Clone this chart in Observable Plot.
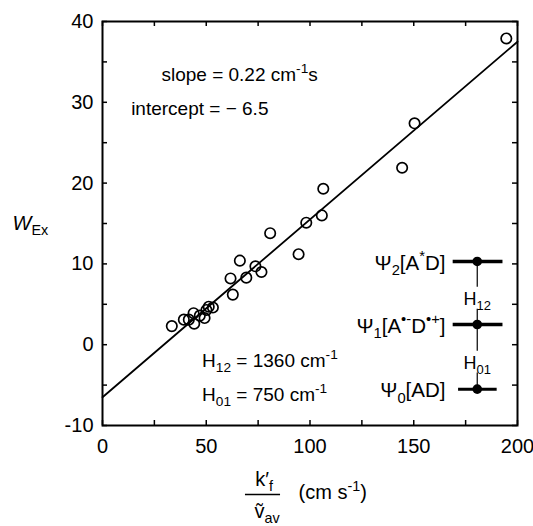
<!DOCTYPE html>
<html><head><meta charset="utf-8">
<script src="https://cdn.jsdelivr.net/npm/d3@7"></script>
<script src="https://cdn.jsdelivr.net/npm/@observablehq/plot@0.6"></script>
<style>body{margin:0;background:#fff}#chart{width:533px;height:526px}</style>
</head><body><div id="chart"></div>
<script>
// Data
const kfOverNu = [33.4, 39.2, 41.6, 43.9, 44.2, 46.9, 49.2, 50.1, 51.2, 53.2, 61.7, 62.8, 66.2, 69.3, 73.7, 76.6, 80.8, 94.5, 98.2, 105.7, 106.4, 144.4, 150.4, 194.6];
const wEx      = [2.3, 3.1, 3.1, 3.9, 2.6, 3.6, 3.3, 4.3, 4.7, 4.6, 8.2, 6.2, 10.4, 8.3, 9.7, 9.0, 13.8, 11.2, 15.1, 16.0, 19.3, 21.9, 27.4, 37.9];
const slope = 0.22, intercept = -6.5;
const fitRange = [0, 200];
const xTickValues = [0, 25, 50, 75, 100, 125, 150, 175, 200];
const xTickLabels = [0, 50, 100, 150, 200];
const yTickValues = [-10, -5, 0, 5, 10, 15, 20, 25, 30, 35, 40];
const yTickLabels = [-10, 0, 10, 20, 30, 40];
const levelNames = ["Ψ_{2}[A^{*}D]", "Ψ_{1}[A^{•-}D^{•+}]", "Ψ_{0}[AD]"];
const levelEnergies = [10.3, 2.5, -5.5];
const couplingNames = ["H_{12}", "H_{01}"];
const annotationTexts = ["slope = 0.22 cm^{-1}s", "intercept = − 6.5", "H_{12} = 1360 cm^{-1}", "H_{01} = 750 cm^{-1}"];
const annotationX = [28.4, 13.8, 48.0, 48.0];
const annotationY = [33.4, 29.2, -2.0, -6.2];

const points = kfOverNu.map((x, i) => ({x, y: wEx[i]}));
const fit = fitRange.map(x => ({x, y: slope * x + intercept}));
const levels = levelNames.map((name, i) => ({name, e: levelEnergies[i], i}));
const couplings = couplingNames.map((name, i) => {
  const up = levelEnergies[i], lo = levelEnergies[i + 1];
  const ly = (up + lo) / 2 - 0.8;
  return {name, up, lo, ly};
});
const notes = annotationTexts.map((t, i) => ({t, x: annotationX[i], y: annotationY[i]}));

const W = 533, H = 526, mL = 102, mR = 16, mT = 21, mB = 101;
const pw = W - mL - mR, ph = H - mT - mB;
const tick = 5;
const font = "'Liberation Sans', Arial, Helvetica, sans-serif";
const levelX = 180.6;

const svg = Plot.plot({
  width: W, height: H,
  marginLeft: mL, marginRight: mR, marginTop: mT, marginBottom: mB,
  x: {domain: [0, 200]},
  y: {domain: [-10, 40]},
  style: {fontFamily: font, fontSize: "20px", background: "white", color: "black", overflow: "visible"},
  marks: [
    Plot.axisX(xTickLabels, {tickSize: 0, tickPadding: 13, label: null, fontSize: 20, tickFormat: d => String(d)}),
    Plot.axisY(yTickLabels, {tickSize: 0, tickPadding: 9, label: null, fontSize: 20, tickFormat: d => String(d)}),
    // inward ticks on all four sides
    Plot.ruleX(xTickValues, {x: d => d, insetTop: ph - tick, strokeWidth: 1.5}),
    Plot.ruleX(xTickValues, {x: d => d, insetBottom: ph - tick, strokeWidth: 1.5}),
    Plot.ruleY(yTickValues, {y: d => d, insetRight: pw - tick, strokeWidth: 1.5}),
    Plot.ruleY(yTickValues, {y: d => d, insetLeft: pw - tick, strokeWidth: 1.5}),
    Plot.frame({stroke: "black", strokeWidth: 2}),
    // fit line
    Plot.line(fit, {x: "x", y: "y", stroke: "black", strokeWidth: 1.8}),
    // data
    Plot.dot(points, {x: "x", y: "y", r: 5.2, stroke: "black", strokeWidth: 1.7, fill: "none"}),
    // annotations
    Plot.text(notes, {x: "x", y: "y", text: "t", textAnchor: "start", lineAnchor: "middle", fontSize: 19}),
    // energy level diagram
    Plot.ruleY(levels, {y: "e", x1: d => d.i === 2 ? 171.6 : 169, x2: d => d.i === 2 ? 190.2 : 193, strokeWidth: d => d.i === 2 ? 3 : 3.5, stroke: "black"}),
    Plot.dot(levels, {x: () => levelX, y: "e", r: 4.8, fill: "black"}),
    Plot.text(levels, {x: () => 165.3, y: d => d.e - 0.2, text: "name", textAnchor: "end", lineAnchor: "middle", fontSize: 20.5}),
    Plot.ruleX(couplings, {x: () => levelX, y1: "up", y2: d => d.ly + 1.5, strokeWidth: 1.2}),
    Plot.ruleX(couplings, {x: () => levelX, y1: d => d.ly - 1.2, y2: "lo", strokeWidth: 1.2}),
    Plot.text(couplings, {x: () => levelX, y: "ly", text: "name", textAnchor: "middle", lineAnchor: "middle", fontSize: 18}),
    // axis labels
    Plot.text(["W_{Ex}"], {frameAnchor: "left", dx: -90, text: d => d, textAnchor: "start", lineAnchor: "middle", fontSize: 20, fontStyle: "italic"}),
    Plot.text(["k′_{f}"], {frameAnchor: "bottom", dx: -46, dy: 53.6, text: d => d, textAnchor: "middle", lineAnchor: "middle", fontSize: 20}),
    Plot.ruleY([-10], {x1: 68.9, x2: 85.8, dy: 69, strokeWidth: 1.4}),
    Plot.text(["\u1E7D_{av}"], {frameAnchor: "bottom", dx: -43, dy: 86, text: d => d, textAnchor: "middle", lineAnchor: "middle", fontSize: 20}),
    Plot.text(["(cm s^{-1})"], {frameAnchor: "bottom", dx: -11.5, dy: 66.6, text: d => d, textAnchor: "start", lineAnchor: "middle", fontSize: 20})
  ]
});
document.getElementById("chart").appendChild(svg);

// Convert _{..} and ^{..} markup into sub/superscript tspans
function richify(root) {
  d3.select(root).selectAll("text").each(function() {
    const el = this;
    const s = el.textContent;
    if (!/[_^]\{/.test(s)) return;
    const fs = parseFloat(getComputedStyle(el).fontSize) || 20;
    while (el.firstChild) el.removeChild(el.firstChild);
    const re = /([_^])\{([^}]*)\}/g;
    let last = 0, shift = 0, m;
    const add = (txt, kind) => {
      const t = document.createElementNS("http://www.w3.org/2000/svg", "tspan");
      const target = kind === "_" ? 0.26 * fs : kind === "^" ? -0.4 * fs : 0;
      t.setAttribute("dy", target - shift);
      shift = target;
      if (kind) { t.setAttribute("font-size", 0.72 * fs); t.setAttribute("font-style", "normal"); }
      t.textContent = txt;
      el.appendChild(t);
    };
    while ((m = re.exec(s))) {
      if (m.index > last) add(s.slice(last, m.index), null);
      add(m[2], m[1]);
      last = re.lastIndex;
    }
    if (last < s.length) add(s.slice(last), null);
  });
}
richify(svg);
</script>
</body></html>
